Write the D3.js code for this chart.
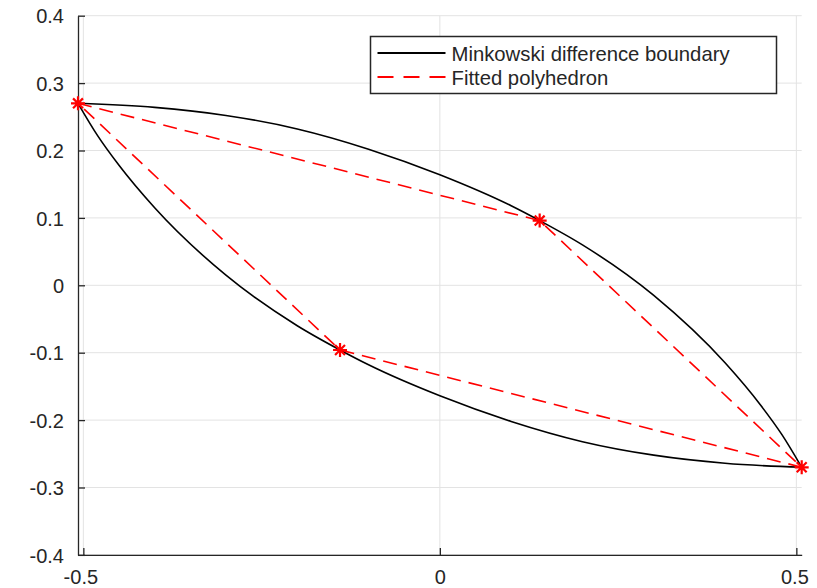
<!DOCTYPE html>
<html>
<head>
<meta charset="utf-8">
<script src="https://cdn.jsdelivr.net/npm/d3@7"></script>
<style>
  html, body { margin: 0; padding: 0; background: #ffffff; }
  svg { display: block; }
  text { font-family: "Liberation Sans", Arial, sans-serif; }
</style>
</head>
<body>
<svg id="chart" width="817" height="588"></svg>
<script>
// Minkowski difference boundary: upper arc (left to right)
const upperX = [-0.5075, -0.4, -0.3, -0.2, -0.1, 0.0, 0.1, 0.14, 0.2, 0.3, 0.4, 0.45, 0.48, 0.5075];
const upperY = [0.27, 0.264, 0.252, 0.232, 0.202, 0.164, 0.118, 0.096, 0.06, -0.015, -0.115, -0.178, -0.222, -0.27];
// Minkowski difference boundary: lower arc (left to right)
const lowerX = [-0.5075, -0.48, -0.45, -0.4, -0.3, -0.2, -0.14, -0.1, 0.0, 0.1, 0.2, 0.3, 0.4, 0.5075];
const lowerY = [0.27, 0.222, 0.178, 0.115, 0.015, -0.06, -0.096, -0.118, -0.164, -0.202, -0.232, -0.252, -0.264, -0.27];
// Fitted polyhedron vertices (closed loop)
const polyX = [-0.5075, 0.14, 0.5075, -0.14];
const polyY = [0.27, 0.096, -0.27, -0.096];

const xTicks = [-0.5, 0, 0.5];
const yTicks = [-0.4, -0.3, -0.2, -0.1, 0, 0.1, 0.2, 0.3, 0.4];
const legendLabels = ["Minkowski difference boundary", "Fitted polyhedron"];

const textColor = "#262626";
const gridColor = "#e3e3e3";

const svg = d3.select("#chart");
const x = d3.scaleLinear().domain([-0.5075, 0.5075]).range([78, 801.7]);
const y = d3.scaleLinear().domain([-0.4, 0.4]).range([554.9, 15.7]);
const [x0, x1] = x.range();
const [y0, y1] = y.range();

// grid
const grid = svg.append("g");
grid.selectAll("line.gx").data(xTicks).join("line")
  .attr("x1", d => x(d)).attr("x2", d => x(d))
  .attr("y1", y0).attr("y2", y1)
  .attr("stroke", gridColor).attr("stroke-width", 1);
grid.selectAll("line.gy").data(yTicks).join("line")
  .attr("x1", x0).attr("x2", x1)
  .attr("y1", d => y(d)).attr("y2", d => y(d))
  .attr("stroke", gridColor).attr("stroke-width", 1);

// axes with inward ticks
const fmt = d => d === 0 ? "0" : d3.format(".1f")(d).replace("−", "-");
const xAxis = svg.append("g").attr("transform", `translate(0,${y0})`)
  .call(d3.axisBottom(x).tickValues(xTicks).tickFormat(fmt).tickSizeInner(-7).tickSizeOuter(0).tickPadding(15));
const yAxis = svg.append("g").attr("transform", `translate(${x0},0)`)
  .call(d3.axisLeft(y).tickValues(yTicks).tickFormat(fmt).tickSizeInner(-7).tickSizeOuter(0).tickPadding(14));
[xAxis, yAxis].forEach(g => {
  g.select(".domain").attr("stroke", textColor).attr("stroke-width", 1.3);
  g.selectAll(".tick line").attr("stroke", textColor).attr("stroke-width", 1.3);
  g.selectAll(".tick text").attr("fill", textColor).attr("font-size", 20);
});
yAxis.selectAll(".tick text").attr("dy", "0.36em");
xAxis.selectAll(".tick text").attr("dx", d => d < 0 ? -3 : (d > 0 ? -2 : 0));

// boundary curves
const line = d3.line().x(d => x(d[0])).y(d => y(d[1])).curve(d3.curveMonotoneX);
const upper = upperX.map((v, i) => [v, upperY[i]]);
const lower = lowerX.map((v, i) => [v, lowerY[i]]);
[upper, lower].forEach(pts => {
  svg.append("path").attr("d", line(pts))
    .attr("fill", "none").attr("stroke", "#000").attr("stroke-width", 1.6);
});

// fitted polyhedron
const poly = polyX.map((v, i) => [v, polyY[i]]);
const polyLine = d3.line().x(d => x(d[0])).y(d => y(d[1])).curve(d3.curveLinearClosed);
svg.append("path").attr("d", polyLine(poly))
  .attr("fill", "none").attr("stroke", "#ff0000").attr("stroke-width", 1.6)
  .attr("stroke-dasharray", "14,8");

// asterisk markers
const r = 7, rd = r * 0.7071;
const star = `M${-r},0L${r},0M0,${-r}L0,${r}M${-rd},${-rd}L${rd},${rd}M${-rd},${rd}L${rd},${-rd}`;
svg.selectAll("path.marker").data(poly).join("path")
  .attr("class", "marker")
  .attr("transform", d => `translate(${x(d[0])},${y(d[1])})`)
  .attr("d", star)
  .attr("fill", "none").attr("stroke", "#ff0000").attr("stroke-width", 2.2);

// legend
const lg = svg.append("g").attr("transform", "translate(370.5,36.5)");
lg.append("rect").attr("width", 406).attr("height", 57)
  .attr("fill", "#fff").attr("stroke", textColor).attr("stroke-width", 1.5);
const styles = [{ c: "#000", dash: null, y: 16.5 }, { c: "#ff0000", dash: "16,10", y: 40.5 }];
styles.forEach((s, i) => {
  lg.append("line").attr("x1", 7).attr("x2", 75).attr("y1", s.y).attr("y2", s.y)
    .attr("stroke", s.c).attr("stroke-width", 2).attr("stroke-dasharray", s.dash);
  lg.append("text").attr("x", 81).attr("y", s.y + 7.5)
    .attr("fill", textColor).attr("font-size", 20.3).text(legendLabels[i]);
});
</script>
</body>
</html>
